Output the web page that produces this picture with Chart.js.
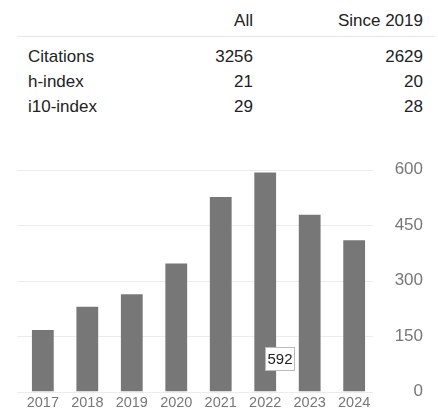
<!DOCTYPE html>
<html lang="en">
<head>
    <meta charset="UTF-8">
    <title>Citations</title>
    <style>
        body {
            margin: 0;
            width: 438px;
            height: 409px;
            overflow: hidden;
            background: #fff;
            font-family: Arial, "Liberation Sans", sans-serif;
            color: #222;
        }
        .stats div {
            position: absolute;
            font-size: 17px;
            line-height: 20px;
            white-space: nowrap;
        }
        .stats .name { left: 28px; }
        .stats .all { right: 185px; text-align: right; }
        .stats .since { right: 15px; text-align: right; }
        .stats .rule {
            left: 17px;
            width: 418px;
            top: 36px;
            height: 0;
            border-top: 1px solid #e8e8e8;
        }
        .chart-box {
            position: absolute;
            left: 0;
            top: 150px;
            width: 438px;
            height: 259px;
        }
    </style>
</head>
<body>
    <div class="stats" id="stats">
        <div class="all" style="top: 11px;">All</div>
        <div class="since" style="top: 11px;">Since 2019</div>
        <div class="rule"></div>
    </div>

    <div class="chart-box">
        <canvas id="citationsChart"></canvas>
    </div>

    <script src="https://cdn.jsdelivr.net/npm/chart.js@4/dist/chart.umd.min.js"></script>
    <script>
        // table data
        const statNames = ['Citations', 'h-index', 'i10-index'];
        const statAll = [3256, 21, 29];
        const statSince = [2629, 20, 28];

        // citations per year
        const years = ['2017', '2018', '2019', '2020', '2021', '2022', '2023', '2024'];
        const citations = [166, 229, 263, 346, 526, 592, 478, 409];
        const yTicks = [0, 150, 300, 450, 600];
        const shownIndex = 5; // the 592 label

        var stats = document.getElementById('stats');
        statNames.forEach(function(name, i) {
            var top = 47 + i * 25;
            [['name', name], ['all', statAll[i]], ['since', statSince[i]]].forEach(function(c) {
                var d = document.createElement('div');
                d.className = c[0];
                d.style.top = top + 'px';
                d.textContent = c[1];
                stats.appendChild(d);
            });
        });

        // light horizontal lines, sit a bit left of the bars like on scholar
        const gridLines = {
            id: 'gridLines',
            beforeDatasetsDraw(chart) {
                const area = chart.chartArea;
                const y = chart.scales.y;
                const ctx = chart.ctx;
                ctx.save();
                ctx.strokeStyle = '#ececec';
                ctx.lineWidth = 1;
                yTicks.forEach(function(v) {
                    const py = Math.round(y.getPixelForValue(v)) + 0.5;
                    ctx.beginPath();
                    ctx.moveTo(area.left - 3.5, py);
                    ctx.lineTo(area.right - 3.5, py);
                    ctx.stroke();
                });
                ctx.restore();
            }
        };

        // small box with the value, like the hover label
        const valueLabel = {
            id: 'valueLabel',
            afterDatasetsDraw(chart) {
                const bar = chart.getDatasetMeta(0).data[shownIndex];
                const y0 = chart.scales.y.getPixelForValue(0);
                const ctx = chart.ctx;
                const text = String(citations[shownIndex]);
                ctx.save();
                ctx.font = '15px Arial, "Liberation Sans", sans-serif';
                const w = ctx.measureText(text).width + 4;
                const h = 23;
                const x = Math.round(bar.x) + 0.5;
                const top = Math.round(y0 - 45) + 0.5;
                ctx.fillStyle = '#fff';
                ctx.strokeStyle = '#bbb';
                ctx.lineWidth = 1;
                ctx.fillRect(x, top, w, h);
                ctx.strokeRect(x, top, w, h);
                ctx.fillStyle = '#222';
                ctx.textAlign = 'center';
                ctx.textBaseline = 'middle';
                ctx.fillText(text, x + w / 2, top + h / 2 + 1);
                ctx.restore();
            }
        };

        var ctx = document.getElementById('citationsChart').getContext('2d');
        var chart = new Chart(ctx, {
            type: 'bar',
            data: {
                labels: years,
                datasets: [{
                    data: citations,
                    backgroundColor: '#777777',
                    borderWidth: 0,
                    categoryPercentage: 1,
                    barPercentage: 0.49
                }]
            },
            plugins: [gridLines, valueLabel],
            options: {
                responsive: true,
                maintainAspectRatio: false,
                animation: false,
                layout: { padding: { top: 19.5, right: 15, left: 20.6, bottom: 0 } },
                plugins: {
                    legend: { display: false },
                    tooltip: { enabled: false }
                },
                scales: {
                    x: {
                        grid: { display: false, drawTicks: false },
                        border: { display: false },
                        ticks: {
                            color: '#777',
                            font: { family: 'Arial, "Liberation Sans", sans-serif', size: 14.5 },
                            padding: 3,
                            maxRotation: 0,
                            autoSkip: false
                        },
                        afterFit: function(scale) { scale.height = 17.5; }
                    },
                    y: {
                        position: 'right',
                        min: 0,
                        max: 600,
                        afterBuildTicks: function(scale) {
                            scale.ticks = yTicks.map(function(v) { return { value: v }; });
                        },
                        grid: { display: false, drawTicks: false },
                        border: { display: false },
                        ticks: {
                            color: '#777',
                            font: { family: 'Arial, "Liberation Sans", sans-serif', size: 17 },
                            crossAlign: 'far',
                            padding: 0
                        },
                        afterFit: function(scale) { scale.width = 46.6; }
                    }
                }
            }
        });
    </script>
</body>
</html>
